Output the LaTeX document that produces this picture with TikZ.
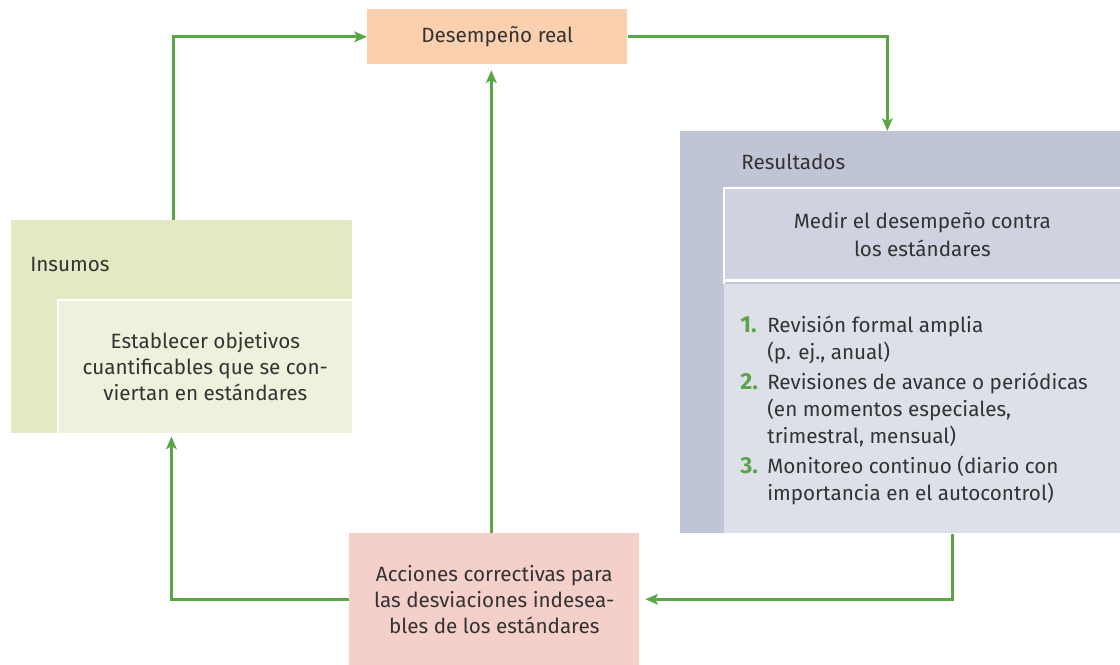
\documentclass[tikz,border=0pt]{standalone}
\usepackage{fontspec}
\setmainfont{Fira Sans}
\usepackage{xcolor}
\usepackage{tikz}
\usetikzlibrary{positioning, arrows.meta, calc}

\definecolor{ctrlgreen}{HTML}{5AA646}
\definecolor{ctrltext}{HTML}{333333}
\definecolor{perffill}{HTML}{FBD0AE}
\definecolor{insout}{HTML}{E2E9C3}
\definecolor{insin}{HTML}{EEF1DC}
\definecolor{resout}{HTML}{BFC5D5}
\definecolor{resmid}{HTML}{CFD3DF}
\definecolor{reslist}{HTML}{DDE0E9}
\definecolor{accfill}{HTML}{F5CFC9}

\newcommand{\stepnum}[1]{\makebox[0.675cm][l]{\fontsize{16.5}{19.2}\selectfont\bfseries\color{ctrlgreen}#1}}

\begin{document}
\begin{tikzpicture}[
    x=0.025cm, y=-0.025cm,
    every node/.style={text=ctrltext, font=\fontsize{14.7}{18.5}\selectfont},
    box/.style={rectangle, anchor=north west, inner sep=0pt, align=center},
    arr/.style={-{Stealth[length=9pt, width=7.5pt, inset=2pt]}, line width=1.9pt, draw=ctrlgreen},
]
\useasboundingbox (0,0) rectangle (1120,665);

% --- Desempeno ---
\node[box, fill=perffill, minimum width=6.5cm, minimum height=1.375cm] (perf) at (367,9) {Desempeño real};

% --- Insumos ---
\node[box, fill=insout, minimum width=8.525cm, minimum height=5.325cm] (ins) at (11,220) {};
\node[anchor=base west, inner sep=0pt] (inslabel) at (30,271) {Insumos};
\node[box, fill=insin, minimum width=7.35cm, minimum height=3.325cm] (insbox) at (58,300)
  {Establecer objetivos\\cuantificables que se con-\\viertan en estándares};
\draw[white, line width=2pt] (insbox.south west) -- (insbox.north west) -- (insbox.north east);

% --- Resultados ---
\node[box, fill=resout, minimum width=11cm, minimum height=10.05cm] (res) at (680,131) {};
\node[anchor=base west, inner sep=0pt] (reslabel) at (741,169) {Resultados};
\node[box, fill=resmid, minimum width=9.9cm, minimum height=2.3cm,
      font=\fontsize{14.7}{20}\selectfont] (medir) at (724,188)
  {Medir el desempeño contra\\los estándares};
\node[box, fill=reslist, minimum width=9.9cm, minimum height=6.225cm] (rlist) at (724,284) {};
\node[anchor=north west, inner sep=0pt, align=left, font=\fontsize{14.7}{19.2}\selectfont] (steps) at (740,313)
  {\begin{tabular}{@{}l@{}l@{}}
   \stepnum{1.} & Revisión formal amplia\\
                & (p. ej., anual)\\[2.2pt]
   \stepnum{2.} & Revisiones de avance o periódicas\\
                & (en momentos especiales,\\
                & trimestral, mensual)\\[2.2pt]
   \stepnum{3.} & Monitoreo continuo (diario con\\
                & importancia en el autocontrol)
   \end{tabular}};
\draw[white, line width=2pt] (rlist.north west) -- (medir.north west) -- (medir.north east);
\draw[white, line width=2pt] (medir.south west) -- (medir.south east);

% --- Acciones ---
\node[box, fill=accfill, minimum width=7.25cm, minimum height=3.3cm] (acc) at (349,533)
  {Acciones correctivas para\\las desviaciones indesea-\\bles de los estándares};

% --- Arrows ---
\draw[arr] ([xshift=-0.2cm]ins.north) |- (perf.west);
\draw[arr] (perf.east) -| ([xshift=-0.325cm]res.north);
\draw[arr, shorten >=4pt] ([xshift=-0.075cm]acc.north) -- ([xshift=-0.075cm]acc.north |- perf.south);
\draw[arr, shorten >=4pt] ([xshift=1.3cm]res.south) |- (acc.east);
\draw[arr, shorten >=2pt] (acc.west) -| ([xshift=-0.26cm]ins.south);
\end{tikzpicture}
\end{document}
